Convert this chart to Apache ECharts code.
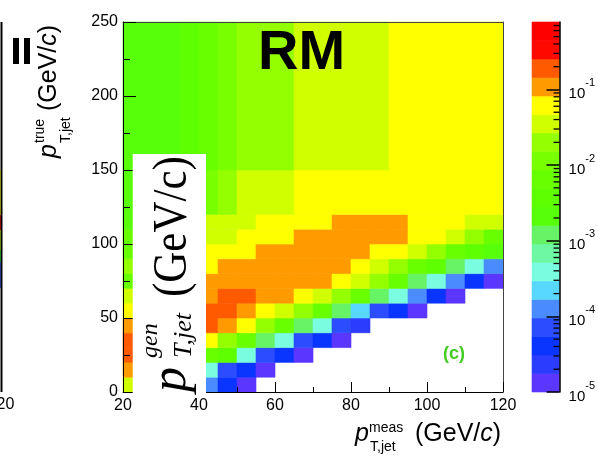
<!DOCTYPE html>
<html><head><meta charset="utf-8">
<script src="https://cdn.jsdelivr.net/npm/echarts@6/dist/echarts.min.js"></script>
<style>html,body{margin:0;padding:0;background:#fff}#c{width:598px;height:460px}</style>
</head><body><div id="c"></div>
<script>
// ---- data ----
const xEdges = [20,25,30,35,40,45,50,55,60,65,70,75,80,85,90,95,100,105,110,115,120];
const yEdges = [0,10,20,30,40,50,60,70,80,90,100,110,120,150,250];
const xTicks = [20,40,60,80,100,120];
const yTicks = [0,50,100,150,200,250];
const zTicksLog = [-5,-4,-3,-2,-1];
const zRange = [1e-5, 0.78];
const nContours = 20;
const _ = null;
// rows = true-pT bins (bottom to top), columns = measured-pT bins
const row0  = [0.035,0.0114,0.0021,3.9e-4,1.25e-4,4.1e-5,1.3e-5,_,_,_,_,_,_,_,_,_,_,_,_,_];
const row1  = [0.108,0.035,0.0114,0.0021,3.9e-4,7.2e-5,4.1e-5,1.3e-5,_,_,_,_,_,_,_,_,_,_,_,_];
const row2  = [0.19,0.108,0.062,0.020,0.0065,0.0037,3.9e-4,7.2e-5,4.1e-5,1.3e-5,_,_,_,_,_,_,_,_,_,_];
const row3  = [0.19,0.19,0.108,0.108,0.062,0.020,0.0065,1.2e-3,3.9e-4,7.2e-5,4.1e-5,1.3e-5,_,_,_,_,_,_,_,_];
const row4  = [0.108,0.108,0.19,0.19,0.19,0.108,0.062,0.020,0.0065,1.2e-3,3.9e-4,7.2e-5,2.3e-5,_,_,_,_,_,_,_];
const row5  = [0.062,0.062,0.108,0.19,0.19,0.19,0.108,0.062,0.035,0.020,0.0065,1.2e-3,2.2e-4,7.2e-5,4.1e-5,1.3e-5,_,_,_,_];
const row6  = [0.035,0.035,0.062,0.108,0.108,0.19,0.19,0.108,0.108,0.062,0.035,0.020,0.0065,1.2e-3,3.9e-4,1.25e-4,4.1e-5,1.3e-5,_,_];
const row7  = [0.0065,0.020,0.035,0.062,0.108,0.108,0.108,0.108,0.108,0.108,0.108,0.062,0.035,0.020,0.0065,1.2e-3,3.9e-4,1.25e-4,4.1e-5,1.3e-5];
const row8  = [0.020,0.020,0.035,0.062,0.062,0.108,0.108,0.108,0.108,0.108,0.108,0.108,0.062,0.035,0.020,0.0065,0.0037,1.2e-3,3.9e-4,1.25e-4];
const row9  = [0.0065,0.0065,0.0114,0.020,0.062,0.062,0.062,0.108,0.108,0.108,0.108,0.108,0.108,0.062,0.062,0.035,0.020,0.0065,0.0037,0.0021];
const row10 = [0.0065,0.0065,0.0114,0.020,0.035,0.035,0.062,0.062,0.062,0.108,0.108,0.108,0.108,0.108,0.108,0.062,0.062,0.035,0.020,0.0065];
const row11 = [0.0021,0.0037,0.0065,0.0114,0.035,0.035,0.035,0.062,0.062,0.062,0.062,0.108,0.108,0.108,0.108,0.062,0.062,0.062,0.035,0.035];
const row12 = [0.0021,0.0037,0.0065,0.0114,0.0114,0.020,0.035,0.035,0.035,0.062,0.062,0.062,0.062,0.062,0.062,0.062,0.062,0.062,0.062,0.062];
const row13 = [0.0021,0.0021,0.0021,0.0037,0.0065,0.0114,0.020,0.020,0.020,0.035,0.035,0.035,0.035,0.035,0.062,0.062,0.062,0.062,0.062,0.062];
const rows = [row0,row1,row2,row3,row4,row5,row6,row7,row8,row9,row10,row11,row12,row13];

// ---- styles ----
const palette = ['#5a36ff','#2b3cff','#0a34ff','#2c4dff','#4a8cff','#58d8ff','#7afce0','#6ef8a4','#66f466','#58ff0a',
                 '#5eff00','#68ff00','#78ff00','#94ff00','#d0ff00','#ffff00','#ff9b00','#ff5a00','#ff0800','#ff0000'];
const FONT = '"Liberation Sans", Arial, Helvetica, sans-serif';
const SERIF = '"Liberation Serif", "Times New Roman", serif';

const logMin = Math.log10(zRange[0]), logMax = Math.log10(zRange[1]);
const step = (logMax - logMin) / nContours;
const pieces = palette.map((c, k) => {
  const p = { gte: logMin + k * step, color: c };
  if (k < nContours - 1) p.lt = logMin + (k + 1) * step; else p.lte = logMax + 1;
  if (k === 0) p.gte = logMin - 1;
  return p;
});

const cells = [];
rows.forEach((row, j) => row.forEach((v, i) => {
  if (v != null) cells.push([xEdges[i], xEdges[i + 1], yEdges[j], yEdges[j + 1], Math.log10(v), v]);
}));
const bands = [];
for (let k = 0; k < nContours; k++) {
  const lo = logMin + k * step, hi = lo + step;
  bands.push([0, 1, lo, hi, (lo + hi) / 2]);
}
const minorLog = [];
for (let n = -5; n <= 0; n++) for (let m = 2; m <= 9; m++) {
  const v = n + Math.log10(m);
  if (v < logMax) minorLog.push([v]);
}

function rectItem(params, api) {
  const p0 = api.coord([api.value(0), api.value(3)]);
  const p1 = api.coord([api.value(1), api.value(2)]);
  const c = api.visual('color');
  return { type: 'rect', shape: { x: p0[0], y: p0[1], width: p1[0] - p0[0], height: p1[1] - p0[1] },
           style: { fill: c, stroke: c, lineWidth: 0.6 } };
}

const chart = echarts.init(document.getElementById('c'), null, { renderer: 'canvas', width: 598, height: 460 });
const txt = (o) => Object.assign({ type: 'text', z: 100 }, o);
chart.setOption({
  animation: false,
  backgroundColor: '#fff',
  grid: [
    { left: 123, top: 22, width: 380, height: 370 },
    { left: 532, top: 22, width: 29, height: 370 }
  ],
  xAxis: [
    { gridIndex: 0, type: 'value', min: 20, max: 120, interval: 20, position: 'bottom', z: 5,
      axisLine: { onZero: false, lineStyle: { color: '#000', width: 1 } },
      axisTick: { inside: true, length: 10, lineStyle: { color: '#000' } },
      minorTick: { show: true, splitNumber: 2, length: 5, lineStyle: { color: '#000' } },
      axisLabel: { fontSize: 16, color: '#000', margin: 6, fontFamily: FONT, customValues: xTicks },
      splitLine: { show: false } },
    { gridIndex: 0, type: 'value', min: 20, max: 120, position: 'top', z: 5,
      axisLine: { onZero: false, lineStyle: { color: '#444', width: 1 } },
      axisTick: { show: false }, axisLabel: { show: false }, splitLine: { show: false } },
    { gridIndex: 1, type: 'value', min: 0, max: 1, show: false }
  ],
  yAxis: [
    { gridIndex: 0, type: 'value', min: 0, max: 250, interval: 50, z: 5,
      axisLine: { onZero: false, lineStyle: { color: '#000', width: 1 } },
      axisTick: { inside: true, length: 13, lineStyle: { color: '#000' } },
      minorTick: { show: true, splitNumber: 2, length: 7, lineStyle: { color: '#000' } },
      axisLabel: { fontSize: 16, color: '#000', margin: 5, fontFamily: FONT, customValues: yTicks },
      splitLine: { show: false } },
    { gridIndex: 0, type: 'value', min: 0, max: 250, position: 'right', z: 5,
      axisLine: { onZero: false, lineStyle: { color: '#444', width: 1 } },
      axisTick: { show: false }, axisLabel: { show: false }, splitLine: { show: false } },
    { gridIndex: 1, type: 'value', min: logMin, max: logMax, interval: 1, position: 'right', z: 5,
      axisLine: { onZero: false, lineStyle: { color: '#000', width: 1.5 } },
      axisTick: { inside: true, length: 13, customValues: zTicksLog, lineStyle: { color: '#000', width: 1.5 } },
      axisLabel: { customValues: zTicksLog, margin: 9, color: '#000', fontFamily: FONT,
        formatter: (v) => '{b|10}{s|' + v + '}',
        rich: { b: { fontSize: 15, lineHeight: 24, verticalAlign: 'bottom', fontFamily: FONT, color: '#000' },
                s: { fontSize: 11, lineHeight: 12, verticalAlign: 'top', fontFamily: FONT, color: '#000' } } },
      splitLine: { show: false } }
  ],
  visualMap: { type: 'piecewise', show: false, dimension: 4, seriesIndex: [0, 1], pieces: pieces },
  series: [
    { type: 'custom', xAxisIndex: 0, yAxisIndex: 0, renderItem: rectItem, data: cells,
      encode: { x: [0, 1], y: [2, 3] }, z: 2, silent: true },
    { type: 'custom', xAxisIndex: 2, yAxisIndex: 2, renderItem: rectItem, data: bands,
      encode: { x: [0, 1], y: [2, 3] }, z: 2, silent: true },
    { type: 'custom', xAxisIndex: 2, yAxisIndex: 2, data: minorLog, encode: { y: 0 }, z: 6, silent: true,
      renderItem: (params, api) => {
        const p = api.coord([1, api.value(0)]);
        return { type: 'line', shape: { x1: p[0] - 6, y1: p[1], x2: p[0], y2: p[1] }, style: { stroke: '#000', lineWidth: 1.3 } };
      } }
  ],
  graphic: [
    // leftover edge of neighbouring panel
    { type: 'line', z: 100, shape: { x1: 1.5, y1: 22, x2: 1.5, y2: 392 }, style: { stroke: '#000', lineWidth: 2 } },
    { type: 'rect', z: 100, shape: { x: 0, y: 170, width: 1, height: 45 }, style: { fill: '#8a8a10' } },
    { type: 'rect', z: 100, shape: { x: 0, y: 215, width: 1, height: 15 }, style: { fill: '#8a1010' } },
    { type: 'rect', z: 100, shape: { x: 0, y: 230, width: 1, height: 20 }, style: { fill: '#6a8a10' } },
    { type: 'rect', z: 100, shape: { x: 0, y: 250, width: 1, height: 12 }, style: { fill: '#208a20' } },
    { type: 'rect', z: 100, shape: { x: 0, y: 262, width: 1, height: 26 }, style: { fill: '#203a8a' } },
    txt({ x: 1, y: 405, style: { text: '120', fontSize: 16, fontFamily: FONT, fill: '#000', align: 'center', verticalAlign: 'middle' } }),
    { type: 'rect', z: 100, shape: { x: 13, y: 38, width: 6, height: 26 }, style: { fill: '#000' } },
    { type: 'rect', z: 100, shape: { x: 24, y: 38, width: 6, height: 26 }, style: { fill: '#000' } },
    // y-axis title
    txt({ x: 49, y: 158, rotation: Math.PI / 2, style: { text: 'p', fontSize: 25, fontStyle: 'italic', fontFamily: FONT, fill: '#000', align: 'left', verticalAlign: 'middle' } }),
    txt({ x: 40, y: 143, rotation: Math.PI / 2, style: { text: 'true', fontSize: 14, fontFamily: FONT, fill: '#000', align: 'left', verticalAlign: 'middle' } }),
    txt({ x: 66, y: 143, rotation: Math.PI / 2, style: { text: 'T,jet', fontSize: 14, fontFamily: FONT, fill: '#000', align: 'left', verticalAlign: 'middle' } }),
    txt({ x: 49, y: 111, rotation: Math.PI / 2, style: { text: '(GeV/{i|c})', fontSize: 25, fontFamily: FONT, fill: '#000', align: 'left', verticalAlign: 'middle',
      rich: { i: { fontSize: 25, fontStyle: 'italic', fontFamily: FONT, fill: '#000' } } } }),
    // x-axis title
    txt({ x: 355, y: 434, style: { text: 'p', fontSize: 25, fontStyle: 'italic', fontFamily: FONT, fill: '#000', align: 'left', verticalAlign: 'middle' } }),
    txt({ x: 369, y: 428, style: { text: 'meas', fontSize: 14, fontFamily: FONT, fill: '#000', align: 'left', verticalAlign: 'middle' } }),
    txt({ x: 370, y: 447, style: { text: 'T,jet', fontSize: 14, fontFamily: FONT, fill: '#000', align: 'left', verticalAlign: 'middle' } }),
    txt({ x: 415, y: 434, style: { text: '(GeV/{i|c})', fontSize: 25, fontFamily: FONT, fill: '#000', align: 'left', verticalAlign: 'middle',
      rich: { i: { fontSize: 25, fontStyle: 'italic', fontFamily: FONT, fill: '#000' } } } }),
    // labels inside
    txt({ x: 258, y: 54, style: { text: 'RM', fontSize: 56, fontWeight: 'bold', fontFamily: FONT, fill: '#000', align: 'left', verticalAlign: 'middle' } }),
    txt({ x: 443, y: 354, style: { text: '(c)', fontSize: 18, fontWeight: 'bold', fontFamily: FONT, fill: '#44cc22', align: 'left', verticalAlign: 'middle' } }),
    // overlapping white label box with serif title
    { type: 'rect', z: 99, shape: { x: 132.7, y: 154, width: 73.3, height: 239 }, style: { fill: '#fff' } },
    txt({ x: 172, y: 392, rotation: Math.PI / 2, style: { text: 'p', fontSize: 50, fontStyle: 'italic', fontFamily: SERIF, fill: '#000', align: 'left', verticalAlign: 'middle' } }),
    txt({ x: 151, y: 358, rotation: Math.PI / 2, style: { text: 'gen', fontSize: 24, fontStyle: 'italic', fontFamily: SERIF, fill: '#000', align: 'left', verticalAlign: 'middle' } }),
    txt({ x: 184, y: 358, rotation: Math.PI / 2, style: { text: 'T,jet', fontSize: 26, fontStyle: 'italic', fontFamily: SERIF, fill: '#000', align: 'left', verticalAlign: 'middle' } }),
    txt({ x: 173, y: 297, rotation: Math.PI / 2, scaleY: 1.15, style: { text: '(GeV/c)', fontSize: 43, fontFamily: SERIF, fill: '#000', align: 'left', verticalAlign: 'middle' } })
  ]
});
</script></body></html>
